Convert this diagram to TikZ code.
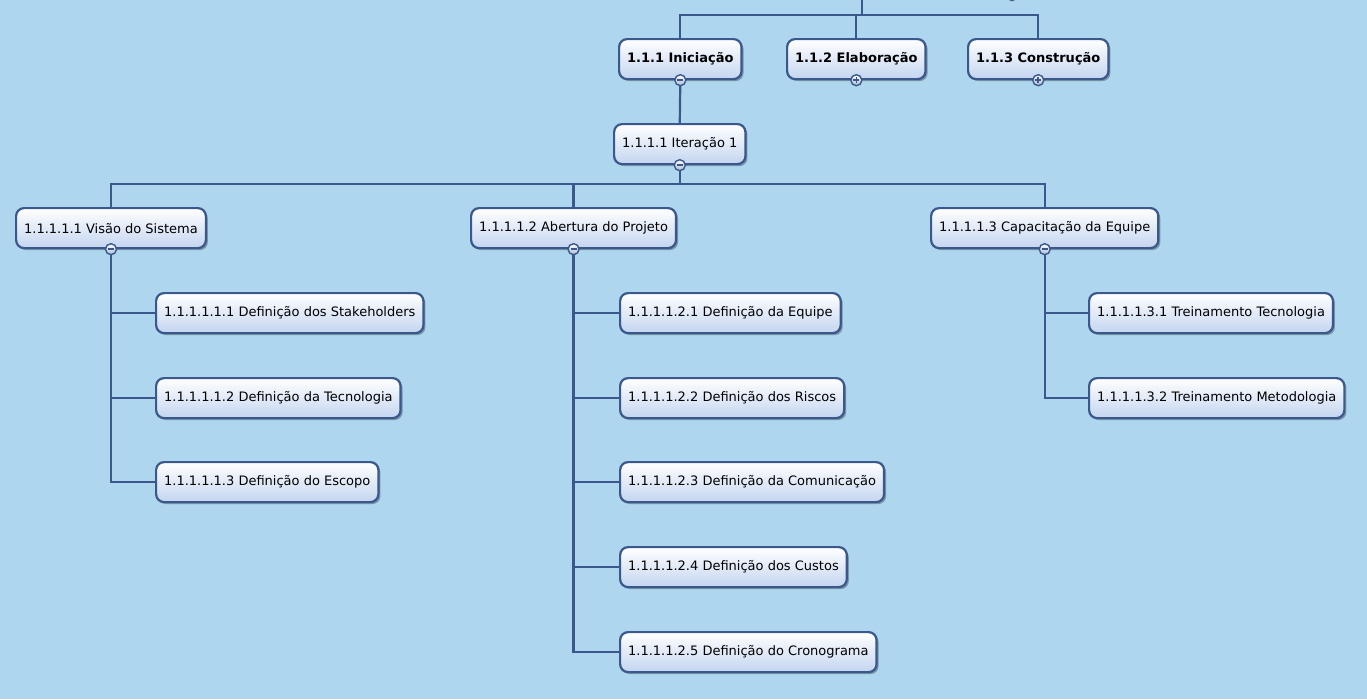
\documentclass[tikz,border=0pt]{standalone}
\usepackage{fontspec}
\setmainfont{DejaVu Sans}
\usetikzlibrary{shadows}
\definecolor{Back}{RGB}{174,214,238}
\definecolor{LineBlue}{RGB}{58,88,140}
\definecolor{Shade}{RGB}{196,213,240}
\definecolor{MarkFill}{RGB}{170,185,210}
\tikzset{%
	% Style of the task box
	Task/.style={rectangle,rounded corners=8pt,draw=LineBlue,line width=2.2pt,
		top color=white,bottom color=Shade,minimum height=40pt,inner xsep=8pt,
		anchor=north west,font=\fontsize{13}{15}\selectfont,
		drop shadow={shadow xshift=2pt,shadow yshift=-2pt,opacity=0.3,fill=black}},
	% Style of the phase box
	Phase/.style={Task,font=\fontsize{13}{15}\selectfont\bfseries},
	% Style of the branch
	Connection/.style={draw=LineBlue,line width=2.2pt},
	% Style of the collapse marker
	Marker/.style={circle,draw=LineBlue,line width=1.4pt,top color=white,
		bottom color=MarkFill,minimum size=11pt,inner sep=0},
	Minus/.style={Marker,path picture={\draw[LineBlue,line width=1.6pt]
		([xshift=-3pt]path picture bounding box.center) -- ([xshift=3pt]path picture bounding box.center);}},
	Plus/.style={Marker,path picture={\draw[LineBlue,line width=1.6pt]
		([xshift=-3pt]path picture bounding box.center) -- ([xshift=3pt]path picture bounding box.center)
		([yshift=-3pt]path picture bounding box.center) -- ([yshift=3pt]path picture bounding box.center);}},
}
\begin{document}
\begin{tikzpicture}[x=1pt,y=-1pt]
\fill[Back] (0,0) rectangle (1367,699);
\useasboundingbox (0,0) rectangle (1367,699);

%~~~~~~~~~~~~~~~~~~~~~~~~~~~~~~~~~~~~~~~~~~~~~~~~~~
% Set Nodes
%~~~~~~~~~~~~~~~~~~~~~~~~~~~~~~~~~~~~~~~~~~~~~~~~~~
\coordinate (Top) at (862, -10);
\coordinate (Bus1) at (862, 15);
\coordinate (Bus2) at (575, 184);

\node[Phase] (P1) at (618, 38) {1.1.1 Iniciação};
\node[Phase] (P2) at (786, 38) {1.1.2 Elaboração};
\node[Phase] (P3) at (967, 38) {1.1.3 Construção};

\node[Task] (It1) at (613, 123) {1.1.1.1 Iteração 1};

\node[Task] (V) at (15, 207) {1.1.1.1.1 Visão do Sistema};
\node[Task] (A) at (470, 207) {1.1.1.1.2 Abertura do Projeto};
\node[Task] (C) at (930, 207) {1.1.1.1.3 Capacitação da Equipe};

\node[Task] (V1) at (155, 292) {1.1.1.1.1.1 Definição dos Stakeholders};
\node[Task] (V2) at (155, 377) {1.1.1.1.1.2 Definição da Tecnologia};
\node[Task] (V3) at (155, 461) {1.1.1.1.1.3 Definição do Escopo};

\node[Task] (A1) at (619, 292) {1.1.1.1.2.1 Definição da Equipe};
\node[Task] (A2) at (619, 377) {1.1.1.1.2.2 Definição dos Riscos};
\node[Task] (A3) at (619, 461) {1.1.1.1.2.3 Definição da Comunicação};
\node[Task] (A4) at (619, 546) {1.1.1.1.2.4 Definição dos Custos};
\node[Task] (A5) at (619, 631) {1.1.1.1.2.5 Definição do Cronograma};

\node[Task] (C1) at (1088, 292) {1.1.1.1.3.1 Treinamento Tecnologia};
\node[Task] (C2) at (1088, 377) {1.1.1.1.3.2 Treinamento Metodologia};

%~~~~~~~~~~~~~~~~~~~~~~~~~~~~~~~~~~~~~~~~~~~~~~~~~~
% Set Branches
%~~~~~~~~~~~~~~~~~~~~~~~~~~~~~~~~~~~~~~~~~~~~~~~~~~
%Branch from the parent above to the phases
\draw[Connection] (Top) -- (Bus1);
\draw[Connection] (P1.north) |- (Bus1) -| (P3.north);
\draw[Connection] (P2.north) |- (Bus1);

%Branch from Iniciação to Iteração 1
\draw[Connection] (P1.south) -- (It1.north);

%Branch from Iteração 1 to its work packages
\draw[Connection] (It1.south) |- (Bus2);
\draw[Connection] (V.north) |- (Bus2) -| (C.north);
\draw[Connection] (A.north) |- (Bus2);

%Branches below Visão do Sistema
\foreach \n in {V1,V2,V3}
	\draw[Connection] (V.south) |- (\n.west);

%Branches below Abertura do Projeto
\foreach \n in {A1,A2,A3,A4,A5}
	\draw[Connection] (A.south) |- (\n.west);

%Branches below Capacitação da Equipe
\foreach \n in {C1,C2}
	\draw[Connection] (C.south) |- (\n.west);

%~~~~~~~~~~~~~~~~~~~~~~~~~~~~~~~~~~~~~~~~~~~~~~~~~~
% Set Markers
%~~~~~~~~~~~~~~~~~~~~~~~~~~~~~~~~~~~~~~~~~~~~~~~~~~
\node[Marker] (M0) at (1012, -5) {};
\node[Minus] (M1) at (P1.south) {};
\node[Plus] (M2) at (P2.south) {};
\node[Plus] (M3) at (P3.south) {};
\node[Minus] (M4) at (It1.south) {};
\node[Minus] (M5) at (V.south) {};
\node[Minus] (M6) at (A.south) {};
\node[Minus] (M7) at (C.south) {};

\end{tikzpicture}
\end{document}
